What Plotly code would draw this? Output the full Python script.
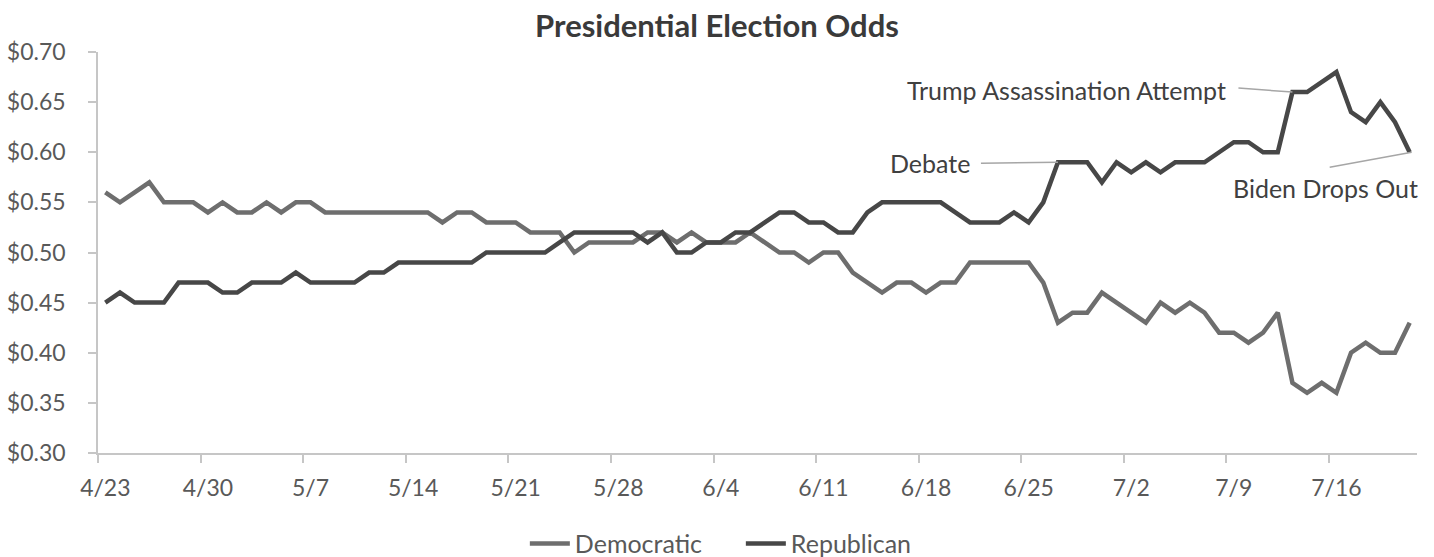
import pandas as pd
import plotly.graph_objects as go

start_date = "2024-04-23"
n_days = 90

democratic = [0.56, 0.55, 0.56, 0.57, 0.55, 0.55, 0.55, 0.54, 0.55, 0.54,
              0.54, 0.55, 0.54, 0.55, 0.55, 0.54, 0.54, 0.54, 0.54, 0.54,
              0.54, 0.54, 0.54, 0.53, 0.54, 0.54, 0.53, 0.53, 0.53, 0.52,
              0.52, 0.52, 0.50, 0.51, 0.51, 0.51, 0.51, 0.52, 0.52, 0.51,
              0.52, 0.51, 0.51, 0.51, 0.52, 0.51, 0.50, 0.50, 0.49, 0.50,
              0.50, 0.48, 0.47, 0.46, 0.47, 0.47, 0.46, 0.47, 0.47, 0.49,
              0.49, 0.49, 0.49, 0.49, 0.47, 0.43, 0.44, 0.44, 0.46, 0.45,
              0.44, 0.43, 0.45, 0.44, 0.45, 0.44, 0.42, 0.42, 0.41, 0.42,
              0.44, 0.37, 0.36, 0.37, 0.36, 0.40, 0.41, 0.40, 0.40, 0.43]

republican = [0.45, 0.46, 0.45, 0.45, 0.45, 0.47, 0.47, 0.47, 0.46, 0.46,
              0.47, 0.47, 0.47, 0.48, 0.47, 0.47, 0.47, 0.47, 0.48, 0.48,
              0.49, 0.49, 0.49, 0.49, 0.49, 0.49, 0.50, 0.50, 0.50, 0.50,
              0.50, 0.51, 0.52, 0.52, 0.52, 0.52, 0.52, 0.51, 0.52, 0.50,
              0.50, 0.51, 0.51, 0.52, 0.52, 0.53, 0.54, 0.54, 0.53, 0.53,
              0.52, 0.52, 0.54, 0.55, 0.55, 0.55, 0.55, 0.55, 0.54, 0.53,
              0.53, 0.53, 0.54, 0.53, 0.55, 0.59, 0.59, 0.59, 0.57, 0.59,
              0.58, 0.59, 0.58, 0.59, 0.59, 0.59, 0.60, 0.61, 0.61, 0.60,
              0.60, 0.66, 0.66, 0.67, 0.68, 0.64, 0.63, 0.65, 0.63, 0.60]

tick_labels = ["4/23", "4/30", "5/7", "5/14", "5/21", "5/28", "6/4",
               "6/11", "6/18", "6/25", "7/2", "7/9", "7/16"]

events = ["Debate", "Trump Assassination Attempt", "Biden Drops Out"]
event_dates = ["2024-06-27", "2024-07-13", "2024-07-21"]

dates = pd.date_range(start_date, periods=n_days, freq="D")
tick_dates = pd.date_range(start_date, periods=len(tick_labels), freq="7D")
half_day = pd.Timedelta(hours=12)
boundary_ticks = [d - half_day for d in tick_dates]

rep_by_date = dict(zip(dates.strftime("%Y-%m-%d"), republican))

TEXT = "#595959"
AXIS = "#c6c6c6"
FONT = "Lato, 'Source Sans Pro', 'Open Sans', sans-serif"

fig = go.Figure()
fig.add_trace(go.Scatter(x=dates, y=democratic, name="Democratic", mode="lines",
                         line=dict(color="#6e6e6e", width=4.5)))
fig.add_trace(go.Scatter(x=dates, y=republican, name="Republican", mode="lines",
                         line=dict(color="#474747", width=4.5)))

# annotation placement: text right-edge xshift, yshift, leader line (px offsets)
ann_style = {
    "Debate": dict(xshift=-86, yshift=-1, line=(-77, -1, 0, 0)),
    "Trump Assassination Attempt": dict(xshift=-64, yshift=2, line=(-54, 4, 0, 0)),
    "Biden Drops Out": dict(xshift=10, yshift=-36, line=(-80, -15, 2, 0)),
}
for ev, d in zip(events, event_dates):
    st = ann_style[ev]
    yv = rep_by_date[d]
    fig.add_annotation(x=d, y=yv, xref="x", yref="y", text=ev, showarrow=False,
                       xanchor="right", yanchor="middle",
                       xshift=st["xshift"], yshift=st["yshift"],
                       font=dict(family=FONT, size=25, color="#404040"))
    x0, y0, x1, y1 = st["line"]
    fig.add_shape(type="line", xref="x", yref="y",
                  xsizemode="pixel", ysizemode="pixel",
                  xanchor=d, yanchor=yv, x0=x0, y0=y0, x1=x1, y1=y1,
                  line=dict(color="#a6a6a6", width=1.5))

fig.update_layout(
    width=1434, height=557,
    margin=dict(l=98, r=17, t=52, b=104, autoexpand=False),
    paper_bgcolor="white", plot_bgcolor="white",
    font=dict(family=FONT, color=TEXT, size=23),
    title=dict(text="<b>Presidential Election Odds</b>", x=0.5, xref="container",
               xanchor="center", y=0.953, yref="container", yanchor="middle",
               font=dict(family=FONT, size=31, color="#3a3a3a")),
    showlegend=True,
    legend=dict(orientation="h", xref="container", yref="container",
                x=0.366, xanchor="left", y=0.024, yanchor="middle",
                font=dict(family=FONT, size=25, color=TEXT),
                itemwidth=40, tracegroupgap=0, entrywidth=161,
                entrywidthmode="pixels", bgcolor="rgba(0,0,0,0)"),
)

fig.update_xaxes(
    range=[dates[0] - half_day, dates[-1] + half_day],
    tickmode="array", tickvals=list(tick_dates), ticktext=tick_labels,
    ticks="", showgrid=False, zeroline=False, automargin=False,
    showline=True, linecolor=AXIS, linewidth=1.5,
    tickfont=dict(family=FONT, size=23, color=TEXT),
    ticklabelstandoff=14,
    minor=dict(tickmode="array", tickvals=boundary_ticks, ticks="outside",
               ticklen=8, tickwidth=1.5, tickcolor=AXIS, showgrid=False),
)
fig.update_yaxes(
    range=[0.30, 0.70], tickmode="linear", tick0=0.30, dtick=0.05,
    tickformat="$.2f", ticks="outside", ticklen=8, tickwidth=1.5, tickcolor=AXIS,
    showgrid=False, zeroline=False, showline=True, linecolor=AXIS, linewidth=1.5,
    automargin=False,
    tickfont=dict(family=FONT, size=23, color=TEXT),
    ticklabelstandoff=18,
)

fig.write_html("out.html", config={"displayModeBar": False},
               post_script="document.body.style.margin='0';document.body.style.padding='0';")
